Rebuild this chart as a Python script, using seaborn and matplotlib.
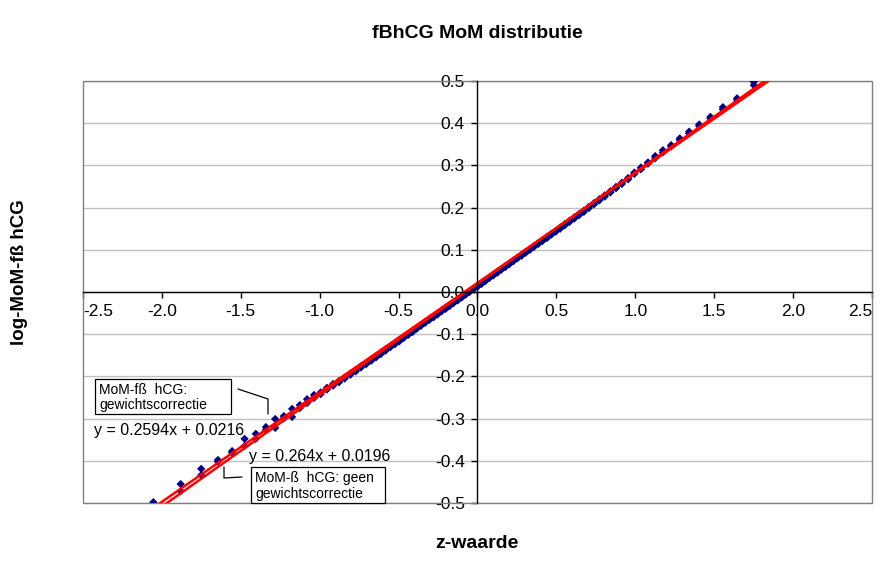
import numpy as np
import pandas as pd
import matplotlib
matplotlib.use("Agg")
import matplotlib.pyplot as plt
from matplotlib.patches import Rectangle
from matplotlib.lines import Line2D
import seaborn as sns

# z-scores (normal quantiles, 2nd..96th percentile)
z_waarde = [
    -2.054, -1.881, -1.751, -1.645, -1.555, -1.476, -1.405, -1.341, -1.282, -1.227,
    -1.175, -1.126, -1.080, -1.036, -0.994, -0.954, -0.915, -0.878, -0.842, -0.806,
    -0.772, -0.739, -0.706, -0.674, -0.643, -0.613, -0.583, -0.553, -0.524, -0.496,
    -0.468, -0.440, -0.412, -0.385, -0.358, -0.332, -0.305, -0.279, -0.253, -0.228,
    -0.202, -0.176, -0.151, -0.126, -0.100, -0.075, -0.050, -0.025, 0.000, 0.025,
    0.050, 0.075, 0.100, 0.126, 0.151, 0.176, 0.202, 0.228, 0.253, 0.279,
    0.305, 0.332, 0.358, 0.385, 0.412, 0.440, 0.468, 0.496, 0.524, 0.553,
    0.583, 0.613, 0.643, 0.674, 0.706, 0.739, 0.772, 0.806, 0.842, 0.878,
    0.915, 0.954, 0.994, 1.036, 1.080, 1.126, 1.175, 1.227, 1.282, 1.341,
    1.405, 1.476, 1.555, 1.645, 1.751,
]

# log-MoM, free beta-hCG with weight correction
log_mom_gewicht = [
    -0.498, -0.455, -0.419, -0.398, -0.377, -0.348, -0.336, -0.320, -0.301, -0.294,
    -0.277, -0.268, -0.254, -0.244, -0.238, -0.227, -0.218, -0.211, -0.203, -0.193,
    -0.185, -0.176, -0.168, -0.160, -0.152, -0.144, -0.136, -0.129, -0.121, -0.114,
    -0.107, -0.099, -0.092, -0.085, -0.078, -0.071, -0.064, -0.058, -0.051, -0.044,
    -0.038, -0.031, -0.024, -0.018, -0.011, -0.005, 0.002, 0.008, 0.014, 0.021,
    0.028, 0.034, 0.041, 0.048, 0.054, 0.061, 0.068, 0.075, 0.081, 0.088,
    0.095, 0.102, 0.109, 0.116, 0.123, 0.131, 0.138, 0.145, 0.153, 0.161,
    0.169, 0.177, 0.185, 0.193, 0.202, 0.211, 0.220, 0.229, 0.239, 0.249,
    0.259, 0.270, 0.283, 0.295, 0.307, 0.322, 0.336, 0.348, 0.364, 0.380,
    0.397, 0.415, 0.438, 0.459, 0.498,
]

# log-MoM, beta-hCG without weight correction
log_mom_geen = [
    -0.506, -0.472, -0.434, -0.402, -0.381, -0.365, -0.348, -0.327, -0.322, -0.299,
    -0.296, -0.275, -0.263, -0.251, -0.242, -0.231, -0.222, -0.214, -0.205, -0.196,
    -0.188, -0.179, -0.171, -0.163, -0.155, -0.147, -0.139, -0.131, -0.124, -0.117,
    -0.109, -0.102, -0.095, -0.087, -0.080, -0.073, -0.066, -0.060, -0.053, -0.046,
    -0.040, -0.033, -0.026, -0.020, -0.013, -0.006, 0.000, 0.007, 0.013, 0.019,
    0.026, 0.033, 0.039, 0.046, 0.053, 0.059, 0.066, 0.073, 0.080, 0.086,
    0.093, 0.100, 0.107, 0.114, 0.121, 0.128, 0.136, 0.143, 0.150, 0.158,
    0.166, 0.174, 0.182, 0.190, 0.199, 0.208, 0.217, 0.226, 0.236, 0.246,
    0.256, 0.267, 0.280, 0.291, 0.304, 0.317, 0.331, 0.345, 0.360, 0.376,
    0.393, 0.411, 0.433, 0.455, 0.490,
]

# trend lines: slope, intercept
trend_gewicht = (0.2594, 0.0216)
trend_geen = (0.264, 0.0196)

x_ticks = [-2.5, -2.0, -1.5, -1.0, -0.5, 0.0, 0.5, 1.0, 1.5, 2.0, 2.5]
y_ticks = [-0.5, -0.4, -0.3, -0.2, -0.1, 0.0, 0.1, 0.2, 0.3, 0.4, 0.5]

series_names = ["MoM-fß hCG: gewichtscorrectie", "MoM-ß hCG: geen gewichtscorrectie"]

df = pd.DataFrame({
    "z": z_waarde * 2,
    "logmom": log_mom_gewicht + log_mom_geen,
    "reeks": [series_names[0]] * len(z_waarde) + [series_names[1]] * len(z_waarde),
})

sns.set_theme(style="white")
plt.rcParams["font.family"] = ["Liberation Sans", "DejaVu Sans"]
plt.rcParams["axes.unicode_minus"] = False
plt.rcParams["text.color"] = "black"

W, H = 887, 562
fig = plt.figure(figsize=(W / 100, H / 100), dpi=100)
ax = fig.add_axes([83 / W, 1 - 503 / H, 789 / W, 422 / H])

ax.set_xlim(x_ticks[0], x_ticks[-1])
ax.set_ylim(y_ticks[0], y_ticks[-1])
ax.set_xticks(x_ticks, [f"{v:.1f}" for v in x_ticks])
ax.set_yticks(y_ticks, [f"{v:.1f}" for v in y_ticks])

# horizontal gridlines only
ax.grid(axis="y", color="#C0C0C0", linewidth=1.0, zorder=0)
ax.grid(axis="x", visible=False)
ax.set_axisbelow(True)

sns.scatterplot(data=df, x="z", y="logmom", hue="reeks",
                palette=["#000080", "#000080"], marker="D", s=18,
                edgecolor="none", legend=False, ax=ax, zorder=3)

xs = np.array([x_ticks[0], x_ticks[-1]])
for slope, icpt in (trend_gewicht, trend_geen):
    ax.plot(xs, slope * xs + icpt, color="#FF0000", linewidth=1.8, zorder=4)

# axes through the origin
for side in ("top", "right"):
    ax.spines[side].set_visible(False)
ax.spines["left"].set_position(("data", 0))
ax.spines["bottom"].set_position(("data", 0))
for side in ("left", "bottom"):
    ax.spines[side].set_color("black")
    ax.spines[side].set_linewidth(1.0)
    ax.spines[side].set_zorder(5)
ax.add_patch(Rectangle((0, 0), 1, 1, transform=ax.transAxes, fill=False,
                       edgecolor="#808080", linewidth=1.0, zorder=1, clip_on=False))

ax.tick_params(axis="both", which="major", direction="out", length=4, width=1,
               color="black", labelsize=12.5, labelcolor="black", pad=5,
               bottom=True, left=True)
ax.set_xlabel("")
ax.set_ylabel("")

# keep the outermost x labels inside the plot frame
xticks_major = ax.xaxis.get_major_ticks()
xticks_major[0].label1.set_horizontalalignment("left")
xticks_major[-1].label1.set_horizontalalignment("right")


def fpos(px, py):
    return px / W, 1 - py / H


fig.text(*fpos(477, 33), "fBhCG MoM distributie", ha="center", va="center",
         fontsize=14, fontweight="bold", color="black")
fig.text(*fpos(477, 543), "z-waarde", ha="center", va="center",
         fontsize=14, fontweight="bold", color="black")
fig.text(*fpos(20, 272), "log-MoM-fß hCG", ha="center", va="center",
         rotation=90, fontsize=13.5, fontweight="bold", color="black")

# callout boxes
def callout(x0, y0, x1, y1, text):
    bx, by = fpos(x0, y1)
    fig.add_artist(Rectangle((bx, by), (x1 - x0) / W, (y1 - y0) / H,
                             transform=fig.transFigure, facecolor="white",
                             edgecolor="black", linewidth=0.9, zorder=6))
    fig.text(*fpos(x0 + 4, (y0 + y1) / 2 + 1), text, ha="left", va="center",
             fontsize=10, linespacing=1.1, zorder=7, color="black")


def connector(points):
    xs_ = [p[0] / W for p in points]
    ys_ = [1 - p[1] / H for p in points]
    fig.add_artist(Line2D(xs_, ys_, transform=fig.transFigure, color="black",
                          linewidth=0.9, zorder=6))


callout(95, 379, 231, 414, "MoM-fß  hCG:\ngewichtscorrectie")
connector([(238, 389), (268, 399), (268, 414)])
callout(251, 467, 385, 503, "MoM-ß  hCG: geen\ngewichtscorrectie")
connector([(224, 467), (224, 478), (242, 477)])

fig.text(*fpos(94, 431), f"y = {trend_gewicht[0]}x + {trend_gewicht[1]}",
         ha="left", va="center", fontsize=11.5, zorder=7, color="black")
fig.text(*fpos(249, 456), f"y = {trend_geen[0]}x + {trend_geen[1]}",
         ha="left", va="center", fontsize=11.5, zorder=7, color="black")

fig.savefig("out.png", dpi=100, facecolor="white")
